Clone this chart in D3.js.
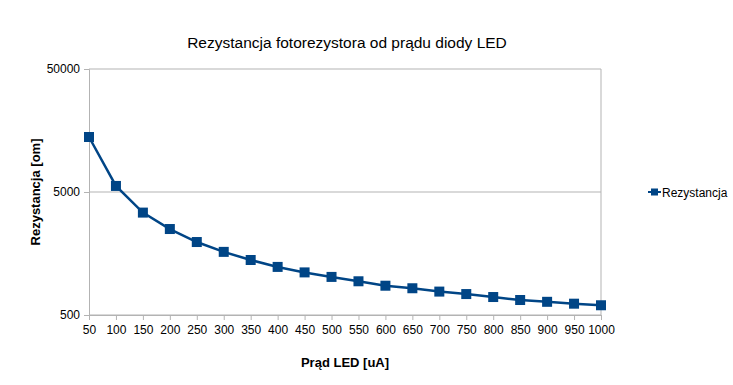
<!DOCTYPE html>
<html lang="pl">
<head>
  <meta charset="UTF-8">
  <title>Rezystancja fotorezystora od prądu diody LED</title>
  <script src="https://d3js.org/d3.v7.min.js"></script>
  <style>
    body { margin: 0; background: #fff; }
    svg { display: block; font-family: "Liberation Sans", Arial, sans-serif; }
  </style>
</head>
<body>
  <svg width="733" height="385"></svg>
  <script>
    const currents = ["50", "100", "150", "200", "250", "300", "350", "400", "450", "500",
                      "550", "600", "650", "700", "750", "800", "850", "900", "950", "1000"];
    const resistance = [14000, 5600, 3400, 2500, 1960, 1630, 1400, 1230, 1110, 1020,
                        940, 865, 825, 775, 740, 700, 662, 640, 618, 600];
    const yTicks = [500, 5000, 50000];
    const seriesName = "Rezystancja";

    const svg = d3.select("svg");
    const margin = {top: 69, left: 89, right: 132, bottom: 70};
    const plotW = 601 - margin.left, plotH = 315 - margin.top;
    const data = currents.map((c, i) => ({x: c, y: resistance[i]}));

    const x = d3.scalePoint().domain(currents).range([0, plotW]);
    const y = d3.scaleLog().domain([500, 50000]).range([plotH, 0]);

    const g = svg.append("g").attr("transform", `translate(${margin.left},${margin.top})`);

    // grid lines
    g.selectAll(".grid").data(yTicks).enter().append("line")
      .attr("x1", 0).attr("x2", plotW)
      .attr("y1", d => y(d)).attr("y2", d => y(d))
      .attr("stroke", "#b3b3b3");
    g.append("line").attr("x1", plotW).attr("x2", plotW).attr("y1", 0).attr("y2", plotH)
      .attr("stroke", "#b3b3b3");

    const yAxis = g.append("g")
      .call(d3.axisLeft(y).tickValues(yTicks).tickFormat(d3.format("d")).tickSize(5).tickPadding(4));
    const xAxis = g.append("g").attr("transform", `translate(0,${plotH})`)
      .call(d3.axisBottom(x).tickSize(5).tickPadding(5));
    [xAxis, yAxis].forEach(a => {
      a.select(".domain").attr("stroke", "#b3b3b3");
      a.selectAll(".tick line").attr("stroke", "#b3b3b3");
      a.selectAll("text").attr("fill", "#000").style("font-size", "12px");
    });

    const line = d3.line().x(d => x(d.x)).y(d => y(d.y));
    g.append("path").datum(data)
      .attr("fill", "none").attr("stroke", "#004586").attr("stroke-width", 2.5)
      .attr("d", line);
    g.selectAll(".pt").data(data).enter().append("rect")
      .attr("x", d => x(d.x) - 5).attr("y", d => y(d.y) - 5)
      .attr("width", 10).attr("height", 10)
      .attr("fill", "#004586");

    svg.append("text").attr("x", 347).attr("y", 48).attr("text-anchor", "middle")
      .style("font-size", "15.5px").text("Rezystancja fotorezystora od prądu diody LED");
    svg.append("text").attr("x", 345).attr("y", 367).attr("text-anchor", "middle")
      .style("font-size", "13px").style("font-weight", "bold").text("Prąd LED [uA]");
    svg.append("text").attr("transform", "translate(40,192) rotate(-90)")
      .attr("text-anchor", "middle")
      .style("font-size", "13px").style("font-weight", "bold").text("Rezystancja [om]");

    // legend
    const lg = svg.append("g").attr("transform", "translate(648,192)");
    lg.append("line").attr("x1", 0).attr("x2", 13).attr("stroke", "#004586").attr("stroke-width", 2);
    lg.append("rect").attr("x", 3).attr("y", -3.5).attr("width", 7).attr("height", 7).attr("fill", "#004586");
    lg.append("text").attr("x", 14).attr("y", 4.5).style("font-size", "12px").text(seriesName);
  </script>
</body>
</html>
